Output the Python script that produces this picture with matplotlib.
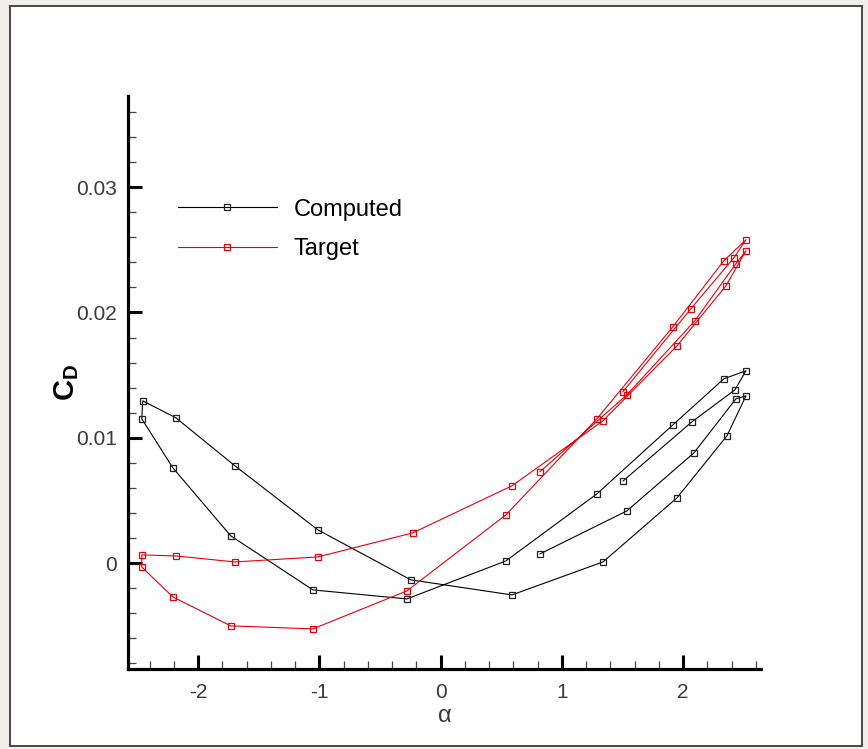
import numpy as np
import matplotlib.pyplot as plt
from matplotlib.patches import Rectangle
from matplotlib.ticker import MultipleLocator, FixedLocator

plt.rcParams['font.family'] = ['Liberation Sans', 'DejaVu Sans']
plt.rcParams['mathtext.fontset'] = 'custom'
plt.rcParams['mathtext.rm'] = 'Liberation Sans'
plt.rcParams['mathtext.bf'] = 'Liberation Sans:bold'

# pitching cycle, angle of attack and drag coefficient
alpha_computed = [0.819, 1.536, 2.089, 2.435, 2.518, 2.361, 1.949, 1.339, 0.588,
                  -0.245, -1.012, -1.696, -2.183, -2.456, -2.464, -2.208, -1.730,
                  -1.053, -0.278, 0.538, 1.289, 1.916, 2.336, 2.518, 2.427, 2.073,
                  1.506]
cd_computed = [0.00074, 0.00417, 0.00880, 0.01311, 0.01335, 0.01016, 0.00521,
               0.00010, -0.00253, -0.00133, 0.00266, 0.00777, 0.01160, 0.01295,
               0.01152, 0.00761, 0.00218, -0.00213, -0.00285, 0.00018, 0.00553,
               0.01104, 0.01471, 0.01535, 0.01383, 0.01128, 0.00657]

alpha_target = [0.819, 1.536, 2.097, 2.435, 2.518, 2.353, 1.949, 1.339, 0.588,
                -0.229, -1.012, -1.696, -2.183, -2.464, -2.464, -2.208, -1.730,
                -1.053, -0.278, 0.538, 1.289, 1.916, 2.336, 2.518, 2.419, 2.064,
                1.503]
cd_target = [0.00729, 0.01343, 0.01934, 0.02389, 0.02492, 0.02213, 0.01734,
             0.01136, 0.00617, 0.00242, 0.00050, 0.00010, 0.00058, 0.00066,
             -0.00030, -0.00269, -0.00500, -0.00524, -0.00221, 0.00385, 0.01152,
             0.01887, 0.02413, 0.02580, 0.02437, 0.02030, 0.01367]

x_ticks = [-2, -1, 0, 1, 2]
y_ticks = [0.0, 0.01, 0.02, 0.03]
y_tick_labels = ['0', '0.01', '0.02', '0.03']

W, H = 868, 749
fig = plt.figure(figsize=(W / 100, H / 100), dpi=100, facecolor='#f0efeb')
frame = Rectangle((10 / W, 3 / H), 852 / W, 740 / H, transform=fig.transFigure,
                  facecolor='white', edgecolor='#3a3a3a', linewidth=1.3, zorder=-5)
fig.patches.append(frame)

ax = fig.add_axes([127.7 / W, 1 - 669 / H, (761 - 127.7) / W, (669 - 96) / H])
ax.patch.set_alpha(0)

ax.plot(alpha_computed, cd_computed, color='black', lw=0.8, marker='s', ms=5,
        mfc='none', mec='#222222', mew=0.9, label='Computed')
ax.plot(alpha_target, cd_target, color='#e8000b', lw=0.8, marker='s', ms=5,
        mfc='none', mec='#e8000b', mew=0.9, label='Target')

ax.set_xlim(-2.58, 2.642)
ax.set_ylim(-0.00844, 0.03727)

for s in ['top', 'right']:
    ax.spines[s].set_visible(False)
for s in ['left', 'bottom']:
    ax.spines[s].set_linewidth(2.3)

ax.xaxis.set_major_locator(FixedLocator(x_ticks))
ax.xaxis.set_minor_locator(MultipleLocator(0.2))
ax.yaxis.set_major_locator(FixedLocator(y_ticks))
ax.yaxis.set_minor_locator(MultipleLocator(0.002))
ax.set_xticklabels([str(v) for v in x_ticks])
ax.set_yticklabels(y_tick_labels)

ax.tick_params(which='major', direction='in', length=10, width=2.2, labelsize=15,
               labelcolor='#3a3a3a')
ax.tick_params(which='minor', direction='in', length=5.5, width=0.9, color='#444444')
ax.tick_params(axis='x', which='major', pad=10)
ax.tick_params(axis='y', which='major', pad=8)

ax.set_xlabel('α', fontsize=17, color='#3a3a3a', labelpad=2)
ax.set_ylabel(r'$\mathbf{C_D}$', fontsize=21, labelpad=-4)

ax.legend(loc='upper left', bbox_to_anchor=(0.079, 0.821), frameon=False, fontsize=17,
          handlelength=4.2, handletextpad=0.7, labelspacing=0.75, borderpad=0,
          borderaxespad=0, numpoints=1)

fig.savefig('out.png', dpi=100, facecolor=fig.get_facecolor())
